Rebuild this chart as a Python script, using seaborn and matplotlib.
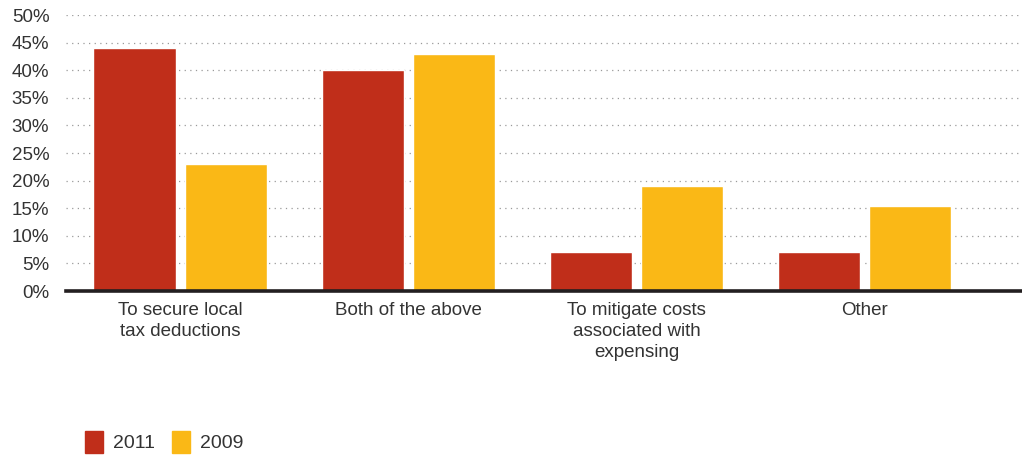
import matplotlib
matplotlib.use("Agg")
import matplotlib.pyplot as plt
import matplotlib.patches as mpatches
import seaborn as sns
import pandas as pd

categories = [
    "To secure local\ntax deductions",
    "Both of the above",
    "To mitigate costs\nassociated with\nexpensing",
    "Other",
]
years = ["2011", "2009"]
values_2011 = [44, 40, 7, 7]
values_2009 = [23, 43, 19, 15.4]
y_ticks = [0, 5, 10, 15, 20, 25, 30, 35, 40, 45, 50]

colors = {"2011": "#C02E1A", "2009": "#FAB816"}

df = pd.DataFrame({
    "category": categories * 2,
    "year": ["2011"] * len(categories) + ["2009"] * len(categories),
    "value": values_2011 + values_2009,
})

sns.set_style("white")
plt.rcParams["font.family"] = ["Liberation Sans", "DejaVu Sans"]

fig = plt.figure(figsize=(10.22, 4.55), dpi=100)
ax = fig.add_axes([66 / 1022, 1 - 291 / 455, 1 - 66 / 1022, (291 - 15) / 455])

sns.barplot(data=df, x="category", y="value", hue="year", hue_order=years,
            palette=colors, width=0.8, gap=0.1, saturation=1,
            order=categories, ax=ax, legend=False, zorder=3)

ax.set_ylim(0, 50)
ax.set_xlim(-0.5, 3.69)
ax.set_yticks(y_ticks)
ax.set_yticklabels([f"{t}%" for t in y_ticks])
ax.yaxis.grid(True, linestyle=(0, (1, 3.5)), color="#9a9a9a", linewidth=0.9, zorder=0)
ax.xaxis.grid(False)
ax.set_axisbelow(True)

for s in ["top", "right", "left"]:
    ax.spines[s].set_visible(False)
ax.spines["bottom"].set_color("#231f20")
ax.spines["bottom"].set_linewidth(2.6)
ax.spines["bottom"].set_zorder(5)

ax.tick_params(axis="y", length=0, labelsize=13.5, labelcolor="#333333", pad=12)
ax.tick_params(axis="x", length=0, labelsize=13.5, labelcolor="#333333", pad=8)
ax.set_xticks(range(len(categories)))
ax.set_xticklabels(categories, linespacing=1.3)
ax.set_xlabel("")
ax.set_ylabel("")

handles = [mpatches.Patch(color=colors[y], label=y) for y in years]
fig.legend(handles=handles, loc="lower left", bbox_to_anchor=(0.066, -0.033),
           ncol=2, frameon=False, fontsize=14, handlelength=0.95, handleheight=1.3,
           handletextpad=0.5, columnspacing=0.85, labelcolor="#333333")

fig.savefig("out.png", dpi=100)
